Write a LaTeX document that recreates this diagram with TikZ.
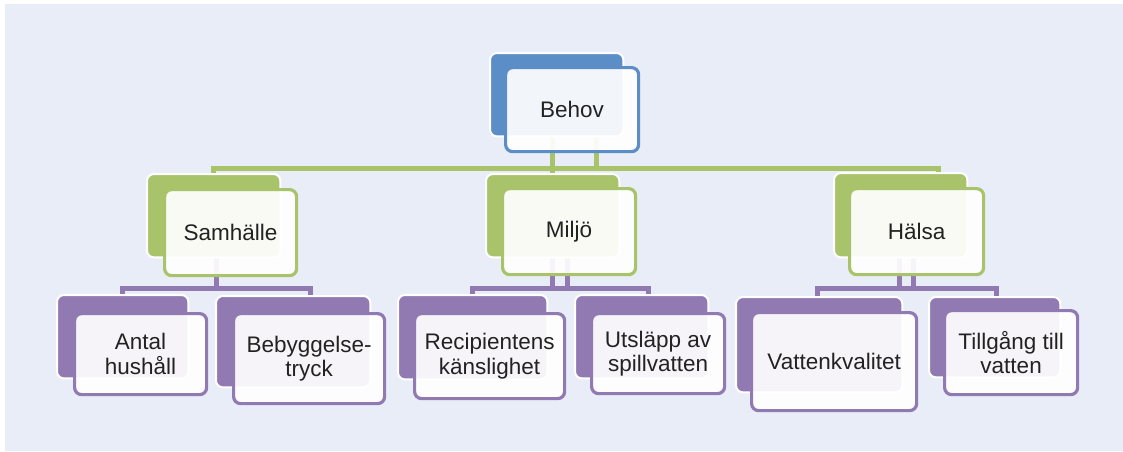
\documentclass[tikz,border=0pt]{standalone}
\usepackage{fontspec}
\setmainfont{Liberation Sans}
\usetikzlibrary{calc}
\definecolor{bgc}{HTML}{E9EDF8}
\definecolor{bluec}{HTML}{5B8DC7}
\definecolor{greenc}{HTML}{A8C36A}
\definecolor{purplec}{HTML}{9179B2}
\definecolor{txtc}{HTML}{222222}
\tikzset{
  boxsz/.style 2 args={minimum width=#1pt, minimum height=#2pt},
  backpos/.style={inner sep=0pt, anchor=north west},
  backdraw/.style={draw=white, line width=2pt, fill=#1, rounded corners=7pt},
  frontbox/.style={draw=#1, line width=3.2pt, fill=white, fill opacity=0.92,
    text opacity=1, rounded corners=7pt, inner sep=0pt, anchor=north west,
    align=center, text=txtc, font=\fontsize{22.5}{24.5}\selectfont},
  gcon/.style={draw=greenc, line width=5pt},
  pcon/.style={draw=purplec, line width=5pt},
}
\begin{document}
\begin{tikzpicture}[x=1pt,y=-1pt]
\useasboundingbox (0,0) rectangle (1123,451);
\fill[bgc] (5,4) rectangle (1123,451);

% ---- back boxes (positions only, drawn later) ----
\node[backpos, boxsz={133}{83}] (behovB) at (490,53) {};
\node[backpos, boxsz={133}{83}] (samB) at (147,174) {};
\node[backpos, boxsz={133}{83}] (miljoB) at (486,174) {};
\node[backpos, boxsz={133}{84}] (halB) at (834,173) {};
\node[backpos, boxsz={131}{83}] (antB) at (57,295) {};
\node[backpos, boxsz={154}{91}] (bebB) at (216,296) {};
\node[backpos, boxsz={149}{84}] (recB) at (398,295) {};
\node[backpos, boxsz={133}{83}] (utsB) at (575,295) {};
\node[backpos, boxsz={166}{95}] (vatB) at (736,297) {};
\node[backpos, boxsz={131}{80}] (tilB) at (929,297) {};

% ---- connectors ----
\coordinate (gbusL) at (212,168);
\coordinate (gbusR) at (938,168);
\draw[gcon] (samB.north) -- (samB.north |- gbusL) -- (gbusR) -- (gbusR |- halB.north);
\draw[gcon] (behovB.south -| miljoB.north) -- (miljoB.north);
\draw[gcon] ([xshift=39.5pt]behovB.south) -- ([xshift=39.5pt]behovB.south |- gbusL);

\coordinate (pbusA) at (310,288);
\draw[pcon] (antB.north) -- (antB.north |- pbusA) -- (pbusA) -- (pbusA |- bebB.north);
\draw[pcon] ([xshift=2.5pt]samB.south) -- ([xshift=2.5pt]samB.south |- pbusA);

\coordinate (pbusB) at (648,288);
\draw[pcon] (recB.north) -- (recB.north |- pbusB) -- (pbusB) -- (pbusB |- utsB.north);
\draw[pcon] (miljoB.south) -- (miljoB.south |- pbusB);
\draw[pcon] ([xshift=15pt]miljoB.south) -- ([xshift=15pt]miljoB.south |- pbusB);

\coordinate (pbusC) at (996,288);
\draw[pcon] ([xshift=-2pt]vatB.north) -- ([xshift=-2pt]vatB.north |- pbusC) -- (pbusC) -- (pbusC |- tilB.north);
\draw[pcon] ([xshift=-1.5pt]halB.south) -- ([xshift=-1.5pt]halB.south |- pbusC);
\draw[pcon] ([xshift=12.5pt]halB.south) -- ([xshift=12.5pt]halB.south |- pbusC);

% ---- back boxes drawn ----
\foreach \n/\c in {behovB/bluec, samB/greenc, miljoB/greenc, halB/greenc,
  antB/purplec, bebB/purplec, recB/purplec, utsB/purplec, vatB/purplec, tilB/purplec}
  \draw[backdraw=\c] (\n.north west) rectangle (\n.south east);

% ---- front boxes with text ----
\node[frontbox=bluec, boxsz={133}{84}] (behov) at (504,66) {Behov};
\node[frontbox=greenc, boxsz={132}{86}] (sam) at (163,188) {Samhälle};
\node[frontbox=greenc, boxsz={133}{86}] (miljo) at (501,187) {Miljö};
\node[frontbox=greenc, boxsz={134}{86}] (hal) at (848,187) {Hälsa};
\node[frontbox=purplec, boxsz={132}{81}] (ant) at (73,312) {Antal\\hushåll};
\node[frontbox=purplec, boxsz={151}{90}] (beb) at (232,312) {Bebyggelse-\\tryck};
\node[frontbox=purplec, boxsz={150}{85}] (rec) at (413,312) {Recipientens\\känslighet};
\node[frontbox=purplec, boxsz={133}{80}] (uts) at (590,312) {Utsläpp av\\spillvatten};
\node[frontbox=purplec, boxsz={165}{98}] (vat) at (750,311) {Vattenkvalitet};
\node[frontbox=purplec, boxsz={133}{84}] (til) at (943,309) {Tillgång till\\vatten};
\end{tikzpicture}
\end{document}
